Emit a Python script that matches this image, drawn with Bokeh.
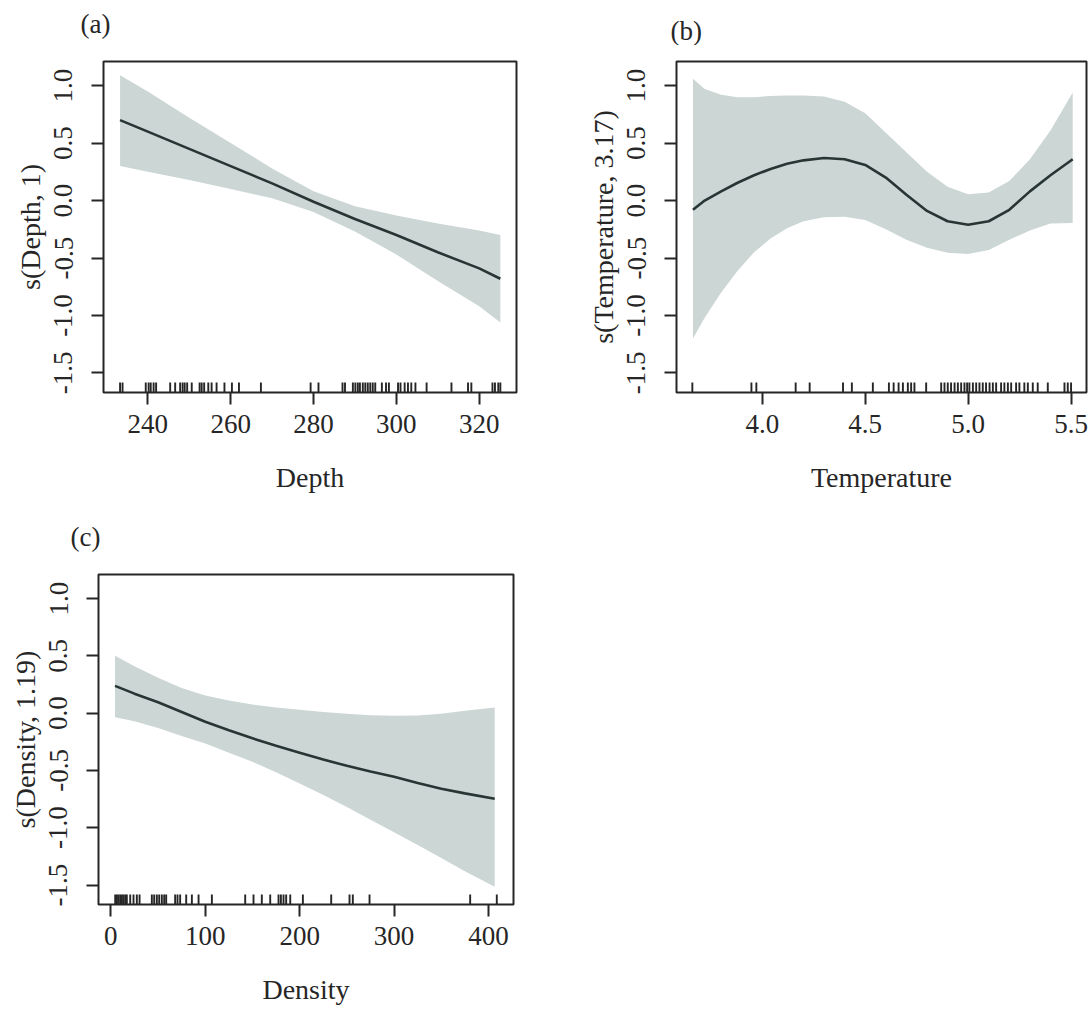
from bokeh.plotting import figure
from bokeh.layouts import column, row
from bokeh.models import FixedTicker, Range1d
from bokeh.core.properties import value
from bokeh.embed import file_html
from bokeh.resources import INLINE

FONT = "Liberation Serif"
BAND = "#ccd6d5"
LINE = "#283535"
INK = "#262626"

# ---------------- data ----------------
y_ticks = [-1.5, -1.0, -0.5, 0.0, 0.5, 1.0]
y_tick_labels = ["-1.5", "-1.0", "-0.5", "0.0", "0.5", "1.0"]
y_limits = (-1.67, 1.21)

# (a) Depth
depth_x = [233.3, 240, 250, 260, 270, 280, 290, 300, 310, 320, 325.1]
depth_fit = [0.70, 0.60, 0.45, 0.30, 0.15, -0.01, -0.16, -0.30, -0.45, -0.59, -0.68]
depth_upper = [1.09, 0.95, 0.72, 0.50, 0.28, 0.08, -0.05, -0.13, -0.20, -0.26, -0.30]
depth_lower = [0.30, 0.25, 0.18, 0.10, 0.02, -0.10, -0.27, -0.47, -0.70, -0.92, -1.06]
depth_rug = [233.3, 233.9, 239.5, 240.2, 240.7, 241.4, 242.0, 245.4, 246.6, 247.8, 248.4,
             248.9, 249.5, 250.6, 252.5, 253.0, 253.6, 254.6, 255.4, 256.6, 258.5, 260.3,
             262.0, 267.3, 279.3, 281.2, 287.0, 287.6, 289.5, 290.1, 290.7, 291.2, 291.9,
             292.5, 293.1, 293.7, 294.3, 294.9, 296.5, 297.5, 298.2, 300.4, 301.0, 302.0,
             302.8, 303.6, 304.6, 307.3, 313.3, 317.3, 318.1, 323.2, 323.8, 324.6, 325.1]
depth_ticks = [240, 260, 280, 300, 320]
depth_tick_labels = ["240", "260", "280", "300", "320"]

# (b) Temperature
temp_x = [3.663, 3.72, 3.80, 3.88, 3.96, 4.04, 4.12, 4.20, 4.30, 4.40, 4.50,
          4.60, 4.70, 4.80, 4.90, 5.00, 5.10, 5.20, 5.30, 5.40, 5.508]
temp_fit = [-0.08, 0.00, 0.08, 0.155, 0.22, 0.275, 0.32, 0.35, 0.37, 0.36, 0.31,
            0.20, 0.05, -0.09, -0.18, -0.21, -0.18, -0.08, 0.08, 0.22, 0.36]
temp_upper = [1.06, 0.97, 0.92, 0.90, 0.90, 0.91, 0.915, 0.915, 0.905, 0.86, 0.76,
              0.59, 0.42, 0.25, 0.12, 0.055, 0.07, 0.17, 0.36, 0.61, 0.94]
temp_lower = [-1.20, -1.02, -0.80, -0.61, -0.45, -0.33, -0.24, -0.18, -0.145, -0.14, -0.17,
              -0.25, -0.34, -0.41, -0.455, -0.465, -0.43, -0.34, -0.26, -0.20, -0.195]
temp_rug = [3.660, 3.947, 3.971, 4.162, 4.230, 4.392, 4.435, 4.537, 4.615, 4.638, 4.662,
            4.683, 4.707, 4.723, 4.739, 4.796, 4.869, 4.885, 4.901, 4.917, 4.934, 4.950,
            4.966, 4.982, 4.995, 5.006, 5.023, 5.039, 5.055, 5.071, 5.087, 5.104, 5.120,
            5.136, 5.160, 5.176, 5.193, 5.209, 5.233, 5.249, 5.273, 5.290, 5.314, 5.338,
            5.387, 5.468, 5.484, 5.500]
temp_ticks = [4.0, 4.5, 5.0, 5.5]
temp_tick_labels = ["4.0", "4.5", "5.0", "5.5"]

# (c) Density
dens_x = [4.4, 25, 50, 75, 100, 125, 150, 175, 200, 225, 250, 275, 300, 325, 350, 375, 406.6]
dens_fit = [0.238, 0.17, 0.095, 0.01, -0.075, -0.15, -0.22, -0.285, -0.345, -0.405, -0.46,
            -0.51, -0.555, -0.61, -0.66, -0.70, -0.747]
dens_upper = [0.50, 0.41, 0.31, 0.22, 0.155, 0.11, 0.075, 0.05, 0.03, 0.01, -0.005,
              -0.018, -0.022, -0.02, -0.005, 0.02, 0.05]
dens_lower = [-0.035, -0.07, -0.13, -0.20, -0.265, -0.345, -0.425, -0.515, -0.615, -0.715, -0.82,
              -0.93, -1.04, -1.15, -1.265, -1.38, -1.515]
dens_rug = [4.6, 6.4, 8.1, 9.9, 11.7, 13.4, 15.2, 16.9, 20.5, 24.0, 27.5, 30.4, 43.4, 45.9,
            48.7, 51.2, 54.0, 56.5, 58.6, 68.1, 70.6, 73.4, 79.8, 85.8, 92.9, 107.0, 142.3,
            151.1, 159.9, 168.8, 177.6, 180.1, 182.9, 185.7, 190.0, 203.4, 233.4, 252.8,
            256.3, 274.0, 380.6, 408.8]
dens_ticks = [0, 100, 200, 300, 400]
dens_tick_labels = ["0", "100", "200", "300", "400"]

panel_tags_top = ["(a)", "(b)"]
panel_tags_bottom = ["(c)"]


def tag_strip(width, height, tags, xs, ys):
    """A blank strip holding the panel letters, in pixel coordinates (y down)."""
    t = figure(frame_width=width, frame_height=height, title=None,
               x_range=Range1d(0, width), y_range=Range1d(height, 0),
               x_axis_type=None, y_axis_type=None,
               min_border=0, output_backend="svg", toolbar_location=None)
    t.outline_line_color = None
    t.grid.visible = False
    t.background_fill_color = "white"
    t.border_fill_color = "white"
    t.text(x=xs, y=ys, text=tags, text_font=value(FONT), text_font_size=value("27px"),
           text_color=INK, text_align="left", text_baseline="middle")
    return t


def panel(xlabel, ylabel, x, fit, lo, hi, rug, xr, xticks, xlabels, borders, frame):
    bl, br, bt, bb = borders
    fw, fh = frame
    p = figure(frame_width=fw, frame_height=fh, title=None,
               x_range=Range1d(*xr), y_range=Range1d(*y_limits),
               min_border_left=bl, min_border_right=br,
               min_border_top=bt, min_border_bottom=bb,
               output_backend="svg", toolbar_location=None)
    p.background_fill_color = "white"
    p.border_fill_color = "white"
    p.outline_line_color = INK
    p.outline_line_width = 2
    p.grid.visible = False

    p.varea(x=x, y1=lo, y2=hi, fill_color=BAND, fill_alpha=1.0)
    p.line(x=x, y=fit, line_color=LINE, line_width=2.6)

    ylo, yhi = y_limits
    rug_len = 10 * (yhi - ylo) / fh
    p.segment(x0=rug, y0=[ylo] * len(rug), x1=rug, y1=[ylo + rug_len] * len(rug),
              line_color=INK, line_width=1.9)

    for ax in (p.xaxis[0], p.yaxis[0]):
        ax.axis_line_color = None
        ax.major_tick_out = 12
        ax.major_tick_in = 0
        ax.major_tick_line_color = INK
        ax.major_tick_line_width = 2
        ax.minor_tick_line_color = None
        ax.major_label_text_font = FONT
        ax.major_label_text_font_size = "27px"
        ax.major_label_text_color = INK
        ax.axis_label_text_font = FONT
        ax.axis_label_text_font_size = "28px"
        ax.axis_label_text_font_style = "normal"
        ax.axis_label_text_color = INK

    p.xaxis.ticker = FixedTicker(ticks=xticks)
    p.xaxis.major_label_overrides = {t: s for t, s in zip(xticks, xlabels)}
    p.xaxis.major_label_standoff = 10
    p.xaxis.axis_label = xlabel
    p.xaxis.axis_label_standoff = 26

    p.yaxis.ticker = FixedTicker(ticks=y_ticks)
    p.yaxis.major_label_overrides = {t: s for t, s in zip(y_ticks, y_tick_labels)}
    p.yaxis.major_label_orientation = "vertical"
    p.yaxis.major_label_standoff = 19
    p.yaxis.axis_label = ylabel
    p.yaxis.axis_label_standoff = 6
    return p


tags1 = tag_strip(1090, 45, panel_tags_top, [80, 670], [23, 30])
pa = panel("Depth", "s(Depth, 1)", depth_x, depth_fit, depth_lower, depth_upper,
           depth_rug, (229.3, 329.0), depth_ticks, depth_tick_labels,
           (103, 44, 16, 118), (413, 331))
pb = panel("Temperature", "s(Temperature, 3.17)", temp_x, temp_fit, temp_lower, temp_upper,
           temp_rug, (3.583, 5.575), temp_ticks, temp_tick_labels,
           (116, 5, 16, 118), (410, 331))
tags2 = tag_strip(560, 45, panel_tags_bottom, [70], [26])
pc = panel("Density", "s(Density, 1.19)", dens_x, dens_fit, dens_lower, dens_upper,
           dens_rug, (-13.1, 426.5), dens_ticks, dens_tick_labels,
           (98, 10, 19, 104), (415, 330))

layout = column(row(tags1, spacing=0), row(pa, pb, spacing=0),
                row(tags2, spacing=0), row(pc, spacing=0), spacing=0)
open("out.html", "w").write(file_html(layout, INLINE))
